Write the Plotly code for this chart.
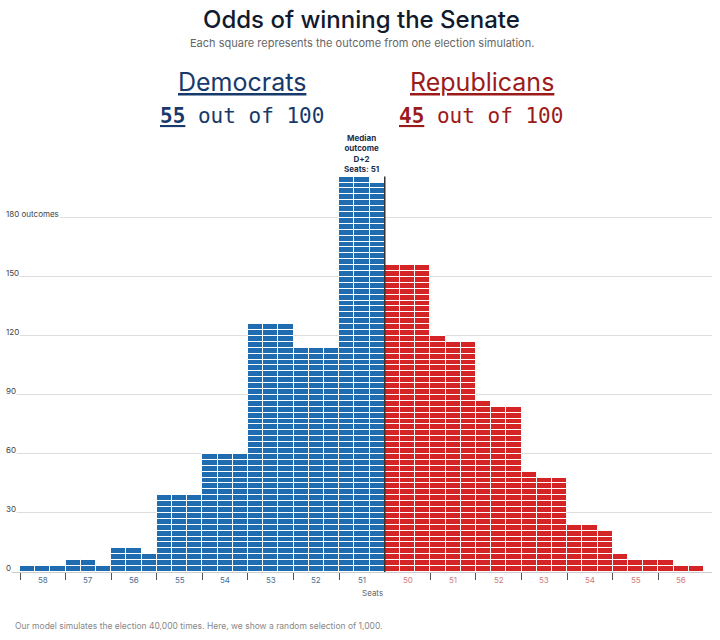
import plotly.graph_objects as go

# Senate simulation, 1,000 sampled outcomes, grouped by seats won by the winner
dem_seats = [58, 57, 56, 55, 54, 53, 52, 51]
dem_counts = [3, 5, 11, 39, 60, 126, 114, 200]
rep_seats = [50, 51, 52, 53, 54, 55, 56]
rep_counts = [156, 118, 85, 49, 23, 7, 4]

y_ticks = [0, 30, 60, 90, 120, 150, 180]
y_tick_text = ["0", "30", "60", "90", "120", "150", "180 outcomes"]

DEM = "#1f6db0"
REP = "#d42426"
DEM_DARK = "#17396b"
REP_DARK = "#9b1b1b"

W, H = 720, 640
L, R, T, B = 7, 8, 130, 68


def px_x(px):
    return (px - L) / (W - L - R)


def px_y(py):
    return (H - B - py) / (H - B - T)


def column_rows(n):
    # three squares per row, remainder fills from the left
    q, r = divmod(n, 3)
    return [q + (1 if j < r else 0) for j in range(3)]


def squares(counts, first_col):
    xs, bases = [], []
    for i, n in enumerate(counts):
        for j, rows in enumerate(column_rows(n)):
            col = first_col + i * 3 + j
            for k in range(rows):
                xs.append(col)
                bases.append(k * 3)
    return xs, bases


n_dem_cols = len(dem_counts) * 3
dem_x, dem_base = squares(dem_counts, 0)
rep_x, rep_base = squares(rep_counts, n_dem_cols)

fig = go.Figure()
for xs, bases, color in [(dem_x, dem_base, DEM), (rep_x, rep_base, REP)]:
    fig.add_trace(go.Bar(
        x=xs, y=[3] * len(xs), base=bases, width=1,
        marker=dict(color=color, line=dict(color="white", width=1)),
        hoverinfo="skip", showlegend=False,
    ))

# median marker at the edge of the Dem 51 bin
median_top = max(column_rows(dem_counts[-1])) * 3
fig.add_trace(go.Scatter(
    x=[n_dem_cols - 0.5, n_dem_cols - 0.5], y=[0, median_top],
    mode="lines", line=dict(color="#333333", width=1.5),
    hoverinfo="skip", showlegend=False,
))

# tick marks at bin boundaries (outer side of each bin)
tick_pos = [i * 3 - 0.5 for i in range(len(dem_counts))]
tick_pos += [n_dem_cols + j * 3 + 2.5 for j in range(len(rep_counts) - 1)]

annotations = []
# x tick labels
for i, s in enumerate(dem_seats):
    annotations.append(dict(x=i * 3 + 1, y=0, xref="x", yref="y", text=str(s),
                            showarrow=False, yanchor="top", yshift=-1,
                            font=dict(size=8, color="#4c6e92", family="Inter")))
for j, s in enumerate(rep_seats):
    annotations.append(dict(x=n_dem_cols + j * 3 + 1, y=0, xref="x", yref="y", text=str(s),
                            showarrow=False, yanchor="top", yshift=-1,
                            font=dict(size=8, color="#cf7c7c", family="Inter")))
# y tick labels sitting just above the gridlines
for v, t in zip(y_ticks, y_tick_text):
    annotations.append(dict(x=px_x(5), y=v, xref="paper", yref="y", text=t,
                            showarrow=False, xanchor="left", yanchor="middle", yshift=4,
                            bgcolor="white", borderpad=0,
                            font=dict(size=8, color="#444444", family="Inter")))

annotations.append(dict(x=len(dem_counts) * 3 - 2, y=median_top, xref="x", yref="y",
                        text="<b>Median<br>outcome<br>D+2<br>Seats: 51</b>",
                        showarrow=False, yanchor="bottom", yshift=1,
                        font=dict(size=8, color="#1c2e4a", family="Inter")))

header = [
    ("Odds of winning the Senate", 362, 19, 24, "#121a2e", "Inter", 500),
    ("Each square represents the outcome from one election simulation.", 362, 43, 11, "#666666", "Inter", 400),
    ("<u>Democrats</u>", 242, 82, 25, DEM_DARK, "Inter", 400),
    ("<b><u>55</u></b> out of 100", 242, 116, 21, DEM_DARK, "DejaVu Sans Mono", 400),
    ("<u>Republicans</u>", 482, 82, 25, REP_DARK, "Inter", 400),
    ("<b><u>45</u></b> out of 100", 481, 116, 21, REP_DARK, "DejaVu Sans Mono", 400),
    ("Seats", 372, 593, 8, "#666666", "Inter", 400),
]
for text, x, y, size, color, fam, weight in header:
    annotations.append(dict(x=px_x(x), y=px_y(y), xref="paper", yref="paper", text=text,
                            showarrow=False, xanchor="center", yanchor="middle",
                            font=dict(size=size, color=color, family=fam, weight=weight)))
annotations.append(dict(x=px_x(13), y=px_y(626), xref="paper", yref="paper",
                        text="Our model simulates the election 40,000 times. Here, we show a random selection of 1,000.",
                        showarrow=False, xanchor="left", yanchor="middle",
                        font=dict(size=8.5, color="#888888", family="Inter")))

fig.update_layout(
    width=W, height=H,
    margin=dict(l=L, r=R, t=T, b=B),
    plot_bgcolor="white", paper_bgcolor="white",
    barmode="overlay", bargap=0,
    annotations=annotations,
    xaxis=dict(range=[-1.355, 45.03], tickvals=tick_pos, ticks="outside", ticklen=7,
               tickcolor="#555555", tickwidth=1, showticklabels=False,
               showgrid=False, zeroline=False, fixedrange=True),
    yaxis=dict(range=[0, 224.7], tickvals=y_ticks, showticklabels=False,
               showgrid=True, gridcolor="#dddddd", gridwidth=1,
               zeroline=True, zerolinecolor="#cccccc", zerolinewidth=1, fixedrange=True),
)

# drop the default 8px page margin so the figure fills the window
fig.write_html("out.html", config={"displayModeBar": False},
               post_script="document.body.style.margin = '0';")
